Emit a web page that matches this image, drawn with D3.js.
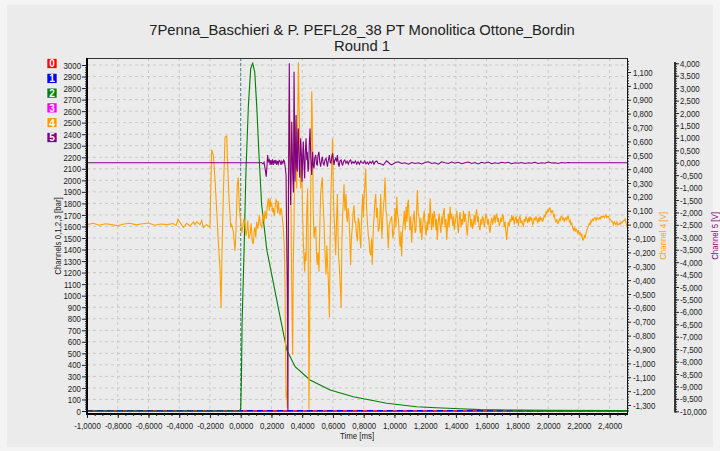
<!DOCTYPE html>
<html>
<head>
<meta charset="utf-8">
<script src="https://cdn.jsdelivr.net/npm/d3@7"></script>
<style>
  body { margin: 0; background: #f4f4f4; }
  svg { display: block; font-family: "Liberation Sans", Arial, sans-serif; }
  .tick text { fill: #1a1a1a; font-size: 9.6px; font-family: "Liberation Sans", Arial, sans-serif; }
  .narrow { font-family: "Liberation Sans", Arial, sans-serif; font-size: 9.6px; }
</style>
</head>
<body>
<div id="chart"></div>
<script>
// --- data (time in ms, ch 0-3 in bar, ch 4/5 in V) ---
const channelNames = ["0", "1", "2", "3", "4", "5"];
const channelColors = ["#ff0000", "#0000ff", "#008000", "#ff00ff", "#ffa000", "#800080"];

const timeTicks = [-1, -0.8, -0.6, -0.4, -0.2, 0, 0.2, 0.4, 0.6, 0.8, 1, 1.2, 1.4, 1.6, 1.8, 2, 2.2, 2.4];
const barTicks = [0, 100, 200, 300, 400, 500, 600, 700, 800, 900, 1000, 1100, 1200, 1300, 1400, 1500,
                  1600, 1700, 1800, 1900, 2000, 2100, 2200, 2300, 2400, 2500, 2600, 2700, 2800, 2900, 3000];
const ch4Ticks = [-1.3, -1.2, -1.1, -1, -0.9, -0.8, -0.7, -0.6, -0.5, -0.4, -0.3, -0.2, -0.1, 0,
                  0.1, 0.2, 0.3, 0.4, 0.5, 0.6, 0.7, 0.8, 0.9, 1, 1.1];
const ch5Ticks = [-10, -9.5, -9, -8.5, -8, -7.5, -7, -6.5, -6, -5.5, -5, -4.5, -4, -3.5, -3, -2.5, -2,
                  -1.5, -1, -0.5, 0, 0.5, 1, 1.5, 2, 2.5, 3, 3.5, 4];

const ch0 = [[-1.0,0],[-0.8,1],[-0.6,0],[-0.4,1],[-0.2,0],[0.0,1],[0.2,0],[0.4,1],[0.6,0],[0.8,1],
             [1.0,0],[1.2,1],[1.4,0],[1.6,1],[1.8,0],[2.0,1],[2.2,0],[2.4,1],[2.513,0]];
const ch1 = [[-1.0,3],[-0.8,4],[-0.6,3],[-0.4,4],[-0.2,3],[0.0,4],[0.2,3],[0.4,4],[0.6,3],[0.8,4],
             [1.0,3],[1.2,4],[1.4,3],[1.6,4],[1.8,3],[2.0,4],[2.2,3],[2.4,4],[2.513,3]];
const ch3 = [[-1.0,0],[2.513,0]];

const ch2 = [[-1.0,0],[-0.01,0],[0.0,20],[0.005,300],[0.009,770],[0.021,1350],[0.034,2075],[0.05,2650],
             [0.065,2970],[0.078,3015],[0.091,2940],[0.104,2650],[0.119,2220],[0.136,1790],[0.17,1396],
             [0.213,1107],[0.256,818],[0.3,529],[0.354,384],[0.451,269],[0.582,182],[0.732,124],
             [0.95,67],[1.145,37],[1.27,28],[1.43,20],[1.56,12],[1.8,8],[2.0,5],[2.513,3]];

const ch4 = [
  [-1.00,0.000],[-0.96,0.010],[-0.92,-0.004],[-0.88,0.006],[-0.84,0.000],[-0.80,-0.008],[-0.76,0.004],
  [-0.72,0.010],[-0.68,-0.002],[-0.64,0.006],[-0.60,0.012],[-0.56,-0.004],[-0.52,0.004],[-0.48,0.000],
  [-0.44,0.008],[-0.42,-0.006],[-0.408,0.040],[-0.40,0.024],[-0.385,0.000],[-0.373,-0.020],[-0.351,0.010],
  [-0.33,-0.010],[-0.308,0.020],[-0.297,0.000],[-0.286,0.022],[-0.265,0.000],[-0.254,0.030],[-0.243,-0.020],
  [-0.221,0.000],[-0.200,-0.020],[-0.189,0.54],[-0.178,0.50],[-0.167,0.32],[-0.156,0.10],[-0.146,-0.12],
  [-0.135,-0.31],[-0.128,-0.60],[-0.122,-0.22],[-0.113,0.22],[-0.102,0.63],[-0.091,0.64],[-0.085,0.43],
  [-0.076,0.19],[-0.065,-0.02],[-0.059,0.00],[-0.048,-0.05],[-0.037,-0.19],[-0.031,-0.05],[-0.022,0.29],
  [-0.016,0.34],[-0.009,0.12],[0.000,0.02],[0.008,-0.06],[0.013,-0.02],[0.020,0.04],[0.028,0.00],
  [0.034,-0.08],[0.039,-0.05],[0.046,0.03],[0.052,-0.10],[0.061,-0.07],[0.068,0.01],[0.075,-0.12],
  [0.082,-0.14],[0.088,-0.04],[0.093,-0.02],[0.098,-0.09],[0.104,0.02],[0.112,-0.03],[0.121,0.07],
  [0.128,0.00],[0.137,-0.02],[0.145,0.08],[0.152,0.02],[0.158,0.10],[0.166,0.04],[0.173,0.14],
  [0.180,0.19],[0.186,0.10],[0.191,0.19],[0.196,0.13],[0.202,0.16],[0.207,0.09],[0.212,0.12],
  [0.218,0.06],[0.223,0.12],[0.229,0.18],[0.234,0.17],[0.240,0.08],[0.245,0.17],[0.250,0.10],
  [0.256,0.07],[0.261,0.12],[0.266,0.10],[0.272,0.03],[0.277,-0.02],[0.283,-0.15],[0.288,-0.41],
  [0.292,-0.90],[0.295,-1.25],[0.299,-1.20],[0.303,-1.32],[0.306,-0.60],[0.310,0.26],[0.316,0.87],
  [0.320,0.70],[0.325,0.38],[0.329,-0.10],[0.332,-0.46],[0.338,-0.94],[0.342,-0.30],[0.347,0.02],
  [0.353,0.75],[0.358,0.55],[0.364,0.26],[0.370,0.70],[0.375,1.17],[0.379,0.90],[0.382,0.75],
  [0.386,0.40],[0.390,0.26],[0.395,0.45],[0.399,0.31],[0.403,0.05],[0.407,-0.12],[0.412,-0.25],
  [0.416,-0.34],[0.420,-0.20],[0.425,-0.26],[0.430,0.10],[0.436,0.26],[0.440,-0.40],[0.444,-1.33],
  [0.447,-0.90],[0.451,-0.46],[0.456,0.30],[0.462,0.96],[0.465,0.80],[0.468,0.50],[0.472,0.10],
  [0.477,-0.10],[0.483,-0.02],[0.488,-0.02],[0.493,-0.20],[0.498,-0.29],[0.503,-0.20],[0.509,-0.34],
  [0.515,0.00],[0.520,0.22],[0.526,0.30],[0.531,0.34],[0.536,0.15],[0.542,0.02],[0.548,-0.20],
  [0.555,-0.36],[0.560,-0.15],[0.564,-0.26],[0.570,-0.40],[0.577,-0.67],[0.582,-0.10],[0.587,0.22],
  [0.593,0.45],[0.598,0.62],[0.603,0.20],[0.607,0.07],[0.612,-0.05],[0.618,-0.22],[0.624,0.05],
  [0.629,0.22],[0.633,-0.05],[0.637,-0.24],[0.642,-0.30],[0.646,-0.41],[0.650,-0.50],[0.653,-0.60],
  [0.658,-0.15],[0.663,0.07],[0.668,0.18],[0.672,0.29],[0.678,0.10],[0.685,0.22],[0.690,0.05],
  [0.694,0.02],[0.699,0.12],[0.704,0.07],[0.710,-0.10],[0.715,-0.29],[0.720,-0.10],[0.726,-0.02],
  [0.731,0.08],[0.737,0.14],[0.742,0.02],[0.748,0.02],[0.754,-0.08],[0.759,-0.12],[0.765,0.05],
  [0.772,0.00],[0.776,-0.10],[0.781,-0.17],[0.788,0.10],[0.794,0.22],[0.798,0.05],[0.802,0.17],
  [0.808,0.30],[0.813,0.40],[0.819,0.12],[0.824,0.02],[0.830,-0.08],[0.835,-0.12],[0.840,-0.20],
  [0.846,-0.22],[0.851,-0.10],[0.856,-0.29],[0.862,-0.05],[0.867,0.05],[0.872,0.15],[0.878,0.22],
  [0.884,0.05],[0.889,0.12],[0.895,-0.05],[0.902,-0.02],[0.907,0.10],[0.911,0.22],[0.915,0.02],
  [0.919,-0.10],[0.924,0.05],[0.928,0.12],[0.934,0.20],[0.939,0.34],[0.945,0.10],[0.950,0.07],
  [0.955,-0.05],[0.960,-0.17],[0.966,0.00],[0.971,0.02],[0.982,0.06],[0.990,-0.10],[0.997,-0.04],
  [1.004,0.12],[1.010,-0.02],[1.015,0.20],[1.020,0.08],[1.026,0.04],[1.031,-0.08],[1.037,-0.16],
  [1.042,-0.05],[1.047,-0.23],[1.052,-0.06],[1.058,0.01],[1.064,0.10],[1.070,-0.04],[1.076,0.13],
  [1.082,0.02],[1.086,0.15],[1.091,0.18],[1.096,0.04],[1.101,-0.04],[1.106,0.06],[1.112,-0.13],
  [1.117,-0.02],[1.123,0.04],[1.129,0.10],[1.134,-0.06],[1.140,-0.04],[1.145,0.12],[1.149,0.25],
  [1.155,0.08],[1.162,0.04],[1.168,-0.06],[1.172,0.05],[1.177,-0.11],[1.182,-0.03],[1.188,0.04],
  [1.194,0.10],[1.200,-0.02],[1.206,-0.08],[1.212,0.02],[1.217,-0.04],[1.221,0.08],[1.227,0.00],
  [1.232,0.19],[1.237,0.06],[1.242,-0.04],[1.248,0.08],[1.253,-0.02],[1.258,0.10],[1.264,0.06],
  [1.270,-0.04],[1.274,0.04],[1.279,-0.11],[1.285,0.02],[1.291,0.08],[1.297,-0.01],[1.302,-0.06],
  [1.308,0.06],[1.313,0.00],[1.318,0.08],[1.324,0.12],[1.329,-0.02],[1.335,0.04],[1.340,-0.11],
  [1.346,0.00],[1.351,0.08],[1.356,-0.02],[1.362,0.13],[1.368,0.04],[1.373,0.08],[1.379,-0.01],
  [1.385,0.06],[1.390,-0.04],[1.395,0.02],[1.401,0.06],[1.406,0.10],[1.411,0.00],[1.416,-0.06],
  [1.422,0.04],[1.427,0.09],[1.433,-0.02],[1.438,0.04],[1.444,0.00],[1.449,0.10],[1.455,0.02],
  [1.460,0.08],[1.466,0.02],[1.470,-0.04],[1.474,-0.08],[1.480,0.02],[1.486,0.10],[1.492,0.06],
  [1.497,-0.02],[1.503,0.04],[1.508,-0.03],[1.514,0.01],[1.519,0.07],[1.524,0.00],[1.530,0.08],
  [1.535,0.11],[1.541,0.02],[1.546,0.06],[1.551,-0.02],[1.557,-0.04],[1.563,0.04],[1.568,0.00],
  [1.573,0.06],[1.579,0.04],[1.585,-0.02],[1.590,0.03],[1.595,0.08],[1.600,0.06],[1.606,0.00],
  [1.611,0.04],[1.617,-0.03],[1.622,-0.06],[1.628,0.02],[1.633,0.05],[1.639,0.00],[1.644,0.04],
  [1.650,0.07],[1.655,0.01],[1.660,0.06],[1.665,0.08],[1.671,0.02],[1.676,0.05],[1.682,-0.01],
  [1.687,0.01],[1.693,0.05],[1.698,0.02],[1.703,0.07],[1.709,0.06],[1.714,-0.02],[1.720,0.02],
  [1.725,-0.05],[1.730,-0.11],[1.736,-0.03],[1.741,0.02],[1.747,-0.01],[1.752,0.04],[1.758,0.02],
  [1.763,0.07],[1.769,0.03],[1.774,0.06],[1.780,0.00],[1.785,0.04],[1.791,0.06],[1.796,0.01],
  [1.802,0.04],[1.807,-0.01],[1.812,0.05],[1.817,0.06],[1.823,0.01],[1.829,0.03],[1.834,0.00],
  [1.839,-0.01],[1.845,0.04],[1.850,0.02],[1.856,0.06],[1.861,0.04],[1.867,0.01],[1.872,0.05],
  [1.877,0.02],[1.882,0.06],[1.888,0.03],[1.893,0.05],[1.899,0.00],[1.904,0.01],[1.910,0.05],
  [1.915,0.03],[1.921,0.06],[1.926,0.04],[1.932,0.01],[1.937,0.05],[1.942,0.02],[1.947,0.06],
  [1.953,0.03],[1.958,0.05],[1.964,0.02],[1.969,0.04],[1.975,0.07],[1.980,0.05],[1.986,0.09],
  [1.991,0.08],[1.997,0.11],[2.002,0.09],[2.008,0.12],[2.013,0.12],[2.019,0.08],[2.024,0.10],
  [2.030,0.10],[2.035,0.06],[2.040,0.07],[2.045,0.04],[2.051,0.02],[2.056,0.04],[2.062,0.01],
  [2.067,0.01],[2.073,0.04],[2.078,0.03],[2.084,0.06],[2.089,0.06],[2.095,0.03],[2.100,0.05],
  [2.105,0.02],[2.110,0.04],[2.116,0.05],[2.121,0.03],[2.127,0.06],[2.132,0.06],[2.138,0.02],
  [2.143,0.03],[2.148,0.00],[2.154,0.01],[2.159,-0.02],[2.165,-0.04],[2.170,-0.02],[2.176,-0.05],
  [2.181,-0.03],[2.186,-0.04],[2.192,-0.06],[2.197,-0.04],[2.203,-0.07],[2.208,-0.06],[2.214,-0.08],
  [2.219,-0.07],[2.225,-0.11],[2.230,-0.11],[2.236,-0.08],[2.241,-0.09],[2.247,-0.06],[2.252,-0.04],
  [2.258,-0.02],[2.262,-0.01],[2.268,0.01],[2.274,0.00],[2.279,0.03],[2.284,0.02],[2.290,0.04],
  [2.295,0.03],[2.301,0.05],[2.306,0.05],[2.312,0.03],[2.317,0.05],[2.322,0.04],[2.327,0.04],
  [2.333,0.05],[2.338,0.04],[2.344,0.06],[2.349,0.05],[2.355,0.06],[2.360,0.06],[2.366,0.05],
  [2.371,0.06],[2.376,0.07],[2.382,0.05],[2.387,0.06],[2.392,0.06],[2.398,0.04],[2.403,0.04],
  [2.409,0.03],[2.414,0.02],[2.420,0.02],[2.425,0.00],[2.430,0.02],[2.436,0.01],[2.441,0.00],
  [2.447,0.02],[2.452,0.00],[2.457,0.00],[2.463,0.01],[2.468,0.00],[2.474,0.02],[2.479,0.01],
  [2.485,0.02],[2.490,0.03],[2.496,0.03],[2.501,0.04],[2.507,0.01],[2.513,-0.02]
];

const ch5 = [
  [-1.0,0.0],[0.137,0.0],[0.145,-0.05],[0.152,0.02],[0.160,-0.30],[0.166,-0.56],[0.170,-0.20],
  [0.175,0.31],[0.180,0.05],[0.186,0.12],[0.191,-0.09],[0.196,0.11],[0.201,-0.08],[0.207,0.14],
  [0.212,-0.09],[0.218,0.10],[0.223,-0.04],[0.229,0.11],[0.234,-0.09],[0.240,0.07],[0.245,-0.05],
  [0.251,0.09],[0.256,0.07],[0.262,-0.09],[0.268,0.06],[0.274,-0.02],[0.280,0.10],[0.285,0.04],
  [0.290,-0.20],[0.295,-0.49],[0.298,-2.5],[0.303,-5.05],[0.307,-9.95],[0.309,-5.0],[0.311,-1.03],
  [0.316,4.0],[0.320,0.31],[0.325,-1.70],[0.330,0.5],[0.332,1.65],[0.338,-0.40],[0.343,-1.2],
  [0.347,3.66],[0.353,-0.76],[0.358,0.6],[0.360,1.92],[0.364,-0.2],[0.368,-0.36],[0.372,1.20],
  [0.375,1.38],[0.380,-0.09],[0.384,-0.6],[0.390,0.98],[0.395,0.30],[0.399,-0.76],[0.404,0.40],
  [0.407,0.85],[0.412,-0.10],[0.416,-0.63],[0.420,0.40],[0.425,0.98],[0.430,0.10],[0.433,0.44],
  [0.438,-0.36],[0.442,-0.20],[0.446,0.70],[0.451,1.38],[0.456,0.20],[0.462,-0.49],[0.466,0.10],
  [0.468,0.44],[0.472,-0.10],[0.477,-0.23],[0.482,0.20],[0.488,0.31],[0.493,-0.05],[0.498,-0.09],
  [0.503,0.30],[0.509,0.44],[0.514,0.05],[0.520,-0.16],[0.526,0.10],[0.531,0.24],[0.536,-0.02],
  [0.542,-0.09],[0.548,0.10],[0.555,0.18],[0.560,0.00],[0.564,-0.16],[0.570,0.10],[0.577,0.31],
  [0.582,0.02],[0.587,-0.02],[0.593,0.25],[0.598,0.38],[0.603,0.05],[0.607,-0.09],[0.612,0.10],
  [0.618,0.18],[0.624,0.05],[0.629,0.31],[0.635,-0.05],[0.640,-0.16],[0.646,0.08],[0.653,0.11],
  [0.658,-0.05],[0.663,-0.09],[0.670,0.06],[0.677,0.11],[0.685,-0.02],[0.692,0.06],[0.700,-0.05],
  [0.707,0.07],[0.715,0.11],[0.722,-0.03],[0.730,0.04],[0.737,-0.02],[0.746,0.07],[0.755,-0.06],
  [0.763,0.04],[0.772,-0.06],[0.781,0.07],[0.790,0.00],[0.798,-0.02],[0.807,0.07],[0.815,-0.05],
  [0.824,0.02],[0.832,-0.06],[0.841,0.05],[0.850,-0.02],[0.859,0.07],[0.867,-0.06],[0.876,0.04],
  [0.885,0.07],[0.895,-0.03],[0.906,-0.03],[0.928,-0.09],[0.949,0.08],[0.960,0.02],[0.967,-0.03],
  [0.982,-0.09],[1.004,0.00],[1.026,0.04],[1.047,-0.03],[1.069,0.00],[1.091,-0.06],[1.112,0.01],
  [1.134,-0.03],[1.156,0.00],[1.177,-0.05],[1.199,0.01],[1.221,0.04],[1.242,-0.03],[1.264,0.00],
  [1.286,-0.06],[1.307,0.04],[1.329,0.00],[1.351,-0.03],[1.372,0.03],[1.394,-0.02],[1.416,0.02],
  [1.437,-0.04],[1.459,0.00],[1.481,0.03],[1.502,-0.03],[1.524,0.01],[1.546,-0.05],[1.567,0.02],
  [1.589,-0.02],[1.611,0.03],[1.632,-0.04],[1.654,0.00],[1.676,-0.03],[1.697,0.02],[1.719,-0.01],
  [1.741,0.02],[1.762,-0.04],[1.784,0.00],[1.806,-0.02],[1.827,0.01],[1.849,-0.03],[1.871,0.00],
  [1.892,-0.02],[1.914,0.02],[1.936,-0.03],[1.957,0.00],[1.979,-0.02],[2.001,0.03],[2.022,-0.01],
  [2.044,0.00],[2.066,-0.03],[2.087,0.01],[2.109,-0.01],[2.131,0.01],[2.145,0.0],[2.513,0.0]
];

// --- layout ---
const W = 720, H = 451;
const plot = {left: 87, right: 627, top: 58, bottom: 414};

const svg = d3.select("#chart").append("svg")
    .attr("width", W).attr("height", H);

svg.append("rect").attr("width", W).attr("height", H).attr("fill", "#f4f4f4");
svg.append("rect").attr("x", 7).attr("y", 5).attr("width", 706).attr("height", 442).attr("fill", "#ebebeb");

const x = d3.scaleLinear().domain([-1, 2.513]).range([plot.left, plot.right]);
const yBar = d3.scaleLinear().domain([0, 3000]).range([411, 65]);
const y4 = d3.scaleLinear().domain([-1.3, 1.1]).range([405, 72]);
const y5 = d3.scaleLinear().domain([-10, 4]).range([411.3, 63.3]);

const comma = f => d => d3.format(f)(d).replace("\u2212", "-").replace(".", ",");

// title
svg.append("text").attr("x", 362).attr("y", 35).attr("text-anchor", "middle")
    .style("font-size", "14.8px").attr("fill", "#222")
    .text("7Penna_Baschieri & P. PEFL28_38 PT Monolitica Ottone_Bordin");
svg.append("text").attr("x", 362).attr("y", 51).attr("text-anchor", "middle")
    .style("font-size", "14.8px").attr("fill", "#222")
    .text("Round 1");

// grid
const grid = svg.append("g").attr("stroke", "#c9c9c9").attr("stroke-dasharray", "3,3");
grid.selectAll(".gx").data(timeTicks.slice(1)).join("line")
    .attr("x1", d => x(d)).attr("x2", d => x(d))
    .attr("y1", plot.top).attr("y2", plot.bottom);
grid.selectAll(".gy").data(barTicks.slice(1)).join("line")
    .attr("x1", plot.left).attr("x2", plot.right)
    .attr("y1", d => yBar(d)).attr("y2", d => yBar(d));

// zero time marker
svg.append("line").attr("x1", x(0)).attr("x2", x(0)).attr("y1", plot.top).attr("y2", plot.bottom)
    .attr("stroke", "#3c8c8c").attr("stroke-dasharray", "3,2");

// series
svg.append("clipPath").attr("id", "clip").append("rect")
    .attr("x", plot.left).attr("y", plot.top)
    .attr("width", plot.right - plot.left).attr("height", plot.bottom - plot.top);
const series = svg.append("g").attr("clip-path", "url(#clip)").attr("fill", "none");

const lineBar = d3.line().x(d => x(d[0])).y(d => yBar(d[1]));
const line4 = d3.line().x(d => x(d[0])).y(d => y4(d[1]));
const line5 = d3.line().x(d => x(d[0])).y(d => y5(d[1]));

series.append("path").attr("d", lineBar(ch3)).attr("stroke", channelColors[3]).attr("stroke-width", 1.2);
series.append("path").attr("d", lineBar(ch0)).attr("stroke", channelColors[0]).attr("stroke-width", 1.5);
series.append("path").attr("d", lineBar(ch1)).attr("stroke", channelColors[1]).attr("stroke-width", 1.2)
    .attr("stroke-dasharray", "6,4");
series.append("path").attr("d", lineBar(ch2)).attr("stroke", channelColors[2]).attr("stroke-width", 1.1);
series.append("path").attr("d", line4(ch4)).attr("stroke", channelColors[4]).attr("stroke-width", 1.1);
series.append("path").attr("d", line5(ch5)).attr("stroke", channelColors[5]).attr("stroke-width", 1.1);

// frame
svg.append("line").attr("x1", plot.left).attr("x2", plot.right).attr("y1", plot.top + 0.5).attr("y2", plot.top + 0.5)
    .attr("stroke", "#333");
svg.append("line").attr("x1", plot.right + 0.5).attr("x2", plot.right + 0.5).attr("y1", plot.top).attr("y2", plot.bottom)
    .attr("stroke", "#111");
svg.append("line").attr("x1", plot.left).attr("x2", plot.left).attr("y1", plot.top).attr("y2", plot.bottom + 1)
    .attr("stroke", "#000").attr("stroke-width", 2);
svg.append("line").attr("x1", plot.left).attr("x2", plot.right + 1).attr("y1", plot.bottom).attr("y2", plot.bottom)
    .attr("stroke", "#000").attr("stroke-width", 2);

// axes
function styleAxis(g) {
  g.select(".domain").remove();
  g.selectAll(".tick line").attr("stroke", "#222");
}

svg.append("g").attr("transform", `translate(${plot.left},0)`)
    .call(d3.axisLeft(yBar).tickValues(d3.range(0, 3001, 20)).tickSize(2).tickFormat(""))
    .call(styleAxis);
svg.append("g").attr("transform", `translate(${plot.left},0)`)
    .call(d3.axisLeft(yBar).tickValues(barTicks).tickSize(5).tickPadding(1).tickFormat(d3.format("d")))
    .call(styleAxis);

svg.append("g").attr("transform", `translate(0,${plot.bottom})`)
    .call(d3.axisBottom(x).tickValues(d3.range(-1, 2.51, 0.05)).tickSize(2).tickFormat(""))
    .call(styleAxis);
svg.append("g").attr("transform", `translate(0,${plot.bottom})`)
    .call(d3.axisBottom(x).tickValues(timeTicks).tickSize(4).tickPadding(4).tickFormat(comma(".4f")))
    .call(styleAxis);

svg.append("g").attr("transform", `translate(${plot.right},0)`)
    .call(d3.axisRight(y4).tickValues(d3.range(-1.34, 1.2, 0.02)).tickSize(2).tickFormat(""))
    .call(styleAxis);
svg.append("g").attr("transform", `translate(${plot.right},0)`)
    .call(d3.axisRight(y4).tickValues(ch4Ticks).tickSize(4).tickPadding(2).tickFormat(comma(".3f")))
    .call(styleAxis);

const ax5 = 675;
svg.append("line").attr("x1", ax5).attr("x2", ax5).attr("y1", y5(4.05)).attr("y2", y5(-10.05))
    .attr("stroke", "#000").attr("stroke-width", 1.5);
svg.append("g").attr("transform", `translate(${ax5},0)`)
    .call(d3.axisRight(y5).tickValues(d3.range(-10, 4.01, 0.1)).tickSize(2).tickFormat(""))
    .call(styleAxis);
svg.append("g").attr("transform", `translate(${ax5},0)`)
    .call(d3.axisRight(y5).tickValues(ch5Ticks).tickSize(4).tickPadding(1).tickFormat(comma(".3f")))
    .call(styleAxis);

// axis titles
svg.append("text").attr("class", "narrow").attr("transform", "translate(61,236) rotate(-90)")
    .attr("text-anchor", "middle").attr("fill", "#222").text("Channels 0,1,2,3 [bar]");
svg.append("text").attr("class", "narrow").attr("transform", "translate(666,236) rotate(-90)")
    .attr("text-anchor", "middle").attr("fill", "#ffa000").text("Channel 4 [V]");
svg.append("text").attr("class", "narrow").attr("transform", "translate(718,236) rotate(-90)")
    .attr("text-anchor", "middle").attr("fill", "#800080").text("Channel 5 [V]");
svg.append("text").attr("class", "narrow").attr("x", 357).attr("y", 439).attr("text-anchor", "middle")
    .attr("fill", "#222").text("Time [ms]");

// condense small text to a narrow face width
svg.selectAll(".tick text, text.narrow").each(function() {
  const w = this.getComputedTextLength();
  if (w > 0) d3.select(this).attr("textLength", w * 0.82).attr("lengthAdjust", "spacingAndGlyphs");
});

// legend
const legend = svg.append("g");
const item = legend.selectAll("g").data(channelNames).join("g")
    .attr("transform", (d, i) => `translate(47,${58.5 + i * 14.8})`);
item.append("rect").attr("width", 10).attr("height", 10)
    .attr("fill", (d, i) => channelColors[i]).attr("stroke", "#fff").attr("stroke-width", 0.6);
item.append("text").attr("x", 5).attr("y", 8.8).attr("text-anchor", "middle")
    .style("font-size", "10px").style("font-weight", "bold").attr("fill", "#fff").text(d => d);
</script>
</body>
</html>
